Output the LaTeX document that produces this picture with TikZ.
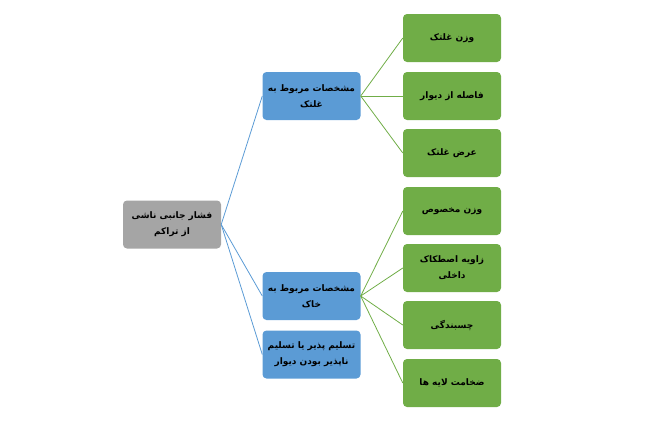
\documentclass[tikz,border=0pt]{standalone}
\usepackage{fontspec}
\TeXXeTstate=1
\newfontfamily\arabicfont[Script=Arabic]{DejaVu Sans}
\definecolor{gbox}{HTML}{A5A5A5}
\definecolor{bbox}{HTML}{5B9BD5}
\definecolor{grbox}{HTML}{70AD47}
\tikzset{
 bx/.style={rounded corners=4pt, minimum width=98pt, minimum height=48pt, align=center, font=\arabicfont\bfseries\fontsize{9}{16}\selectfont, inner sep=2pt},
 rootbox/.style={bx, fill=gbox},
 bluebox/.style={bx, fill=bbox},
 greenbox/.style={bx, fill=grbox},
 bl/.style={draw=bbox, line width=0.8pt},
 gl/.style={draw=grbox, line width=0.8pt}
}
\newcommand{\rl}[1]{\beginR #1\endR}
\begin{document}
\begin{tikzpicture}[x=1pt,y=-1pt]
\useasboundingbox (0,0) rectangle (650,431);
\node[rootbox] (r) at (172,224.5) {\rl{فشار جانبی ناشی}\\\rl{از تراکم}};
\node[bluebox] (b1) at (311.5,96) {\rl{مشخصات مربوط به}\\\rl{غلتک}};
\node[bluebox] (b2) at (311.5,296) {\rl{مشخصات مربوط به}\\\rl{خاک}};
\node[bluebox] (b3) at (311.5,354.5) {\rl{تسلیم پذیر یا تسلیم}\\\rl{ناپذیر بودن دیوار}};
\node[greenbox] (g1) at (452,38) {\rl{وزن غلتک}};
\node[greenbox] (g2) at (452,96) {\rl{فاصله از دیوار}};
\node[greenbox] (g3) at (452,153) {\rl{عرض غلتک}};
\node[greenbox] (g4) at (452,211) {\rl{وزن مخصوص}};
\node[greenbox] (g5) at (452,268) {\rl{زاویه اصطکاک}\\\rl{داخلی}};
\node[greenbox] (g6) at (452,325) {\rl{چسبندگی}};
\node[greenbox] (g7) at (452,383) {\rl{ضخامت لایه ها}};
\foreach \b in {b1,b2,b3} \draw[bl] (r.east) -- (\b.west);
\foreach \g in {g1,g2,g3} \draw[gl] (b1.east) -- (\g.west);
\foreach \g in {g4,g5,g6,g7} \draw[gl] (b2.east) -- (\g.west);
\end{tikzpicture}
\end{document}
